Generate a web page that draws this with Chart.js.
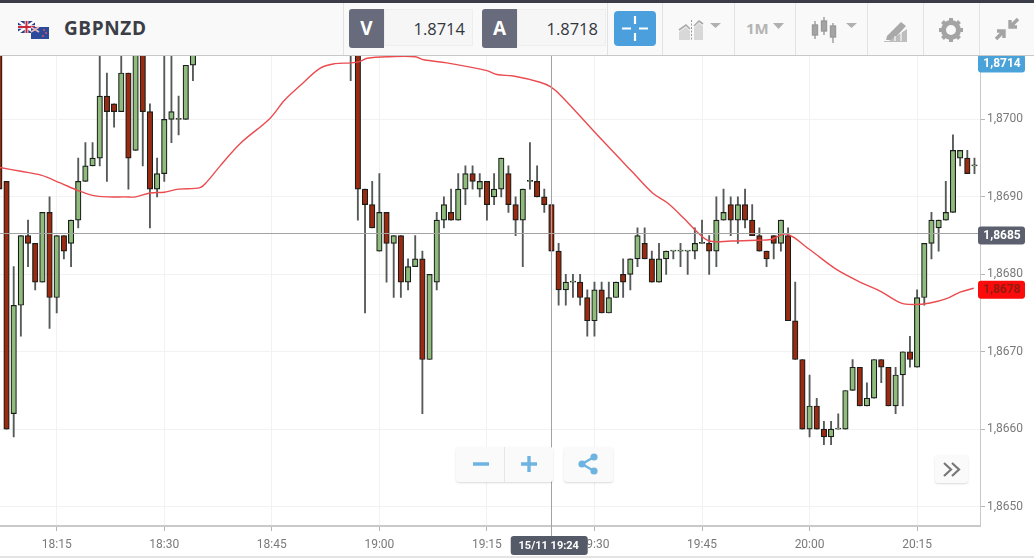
<!DOCTYPE html>
<html>
<head>
<meta charset="utf-8">
<title>GBPNZD</title>
<script src="https://cdn.jsdelivr.net/npm/chart.js@4/dist/chart.umd.min.js"></script>
<style>
  html, body { margin: 0; padding: 0; background: #fff; overflow: hidden; }
  #wrap { position: relative; width: 1034px; height: 558px; font-family: "Open Sans", sans-serif; }
  #chart { position: absolute; left: 0; top: 0; }
  #topline { position: absolute; left: 0; top: 0; width: 1034px; height: 3px; background: #3a3d48; }
  #header { position: absolute; left: 0; top: 3px; width: 1034px; height: 52px; background: #f9f9f9; border-bottom: 1px solid #c8c8c8; box-sizing: content-box; }
  .abs { position: absolute; }
  .div { position: absolute; top: 3px; width: 1px; height: 52px; background: #e2e2e2; }
  .sym { left: 64px; top: 15px; font-size: 19px; font-weight: 700; letter-spacing: 0.6px; color: #3b3e47; }
  .side { top: 9px; width: 35px; height: 39px; background: #676b7c; color: #fff; font-weight: 700; font-size: 19px; text-align: center; line-height: 39px; border-radius: 3px 0 0 3px; }
  .quote { top: 9px; height: 37px; background: #f6f6f6; border: 1px solid #eeeeee; color: #33363e; font-size: 16.5px; line-height: 38px; text-align: right; padding-right: 7px; box-sizing: border-box; }
  #bottom { position: absolute; left: 0; top: 556px; width: 1034px; height: 2px; background: #e4e4e4; }
  .btn { position: absolute; top: 447px; height: 35px; background: #fafafa; border-radius: 3px; box-shadow: 0 1px 2px rgba(0,0,0,.15); }
</style>
</head>
<body>
<div id="wrap">
  <canvas id="chart" width="1034" height="558"></canvas>
  <div id="topline"></div>
  <div id="header"></div>
  <div class="div" style="left:343px"></div>
  <div class="div" style="left:607px"></div>
  <div class="div" style="left:662px"></div>
  <div class="div" style="left:734px"></div>
  <div class="div" style="left:795px"></div>
  <div class="div" style="left:867px"></div>
  <div class="div" style="left:923px"></div>
  <div class="div" style="left:979px"></div>

  <svg class="abs" style="left:18px;top:21px" width="32" height="18" viewBox="0 0 32 18">
    <rect x="0" y="0" width="17" height="12" fill="#2a3f86"/>
    <path d="M0 0L17 12M17 0L0 12" stroke="#fff" stroke-width="2.4"/>
    <path d="M8.5 0V12M0 6H17" stroke="#fff" stroke-width="3.6"/>
    <path d="M8.5 0V12M0 6H17" stroke="#c8283a" stroke-width="2"/>
    <rect x="13" y="6" width="18" height="12" fill="#2b4a9a"/>
    <path d="M13 6L21 11M21 6L13 11" stroke="#e9b7bd" stroke-width="1.5"/>
    <circle cx="26" cy="9" r="1" fill="#e2505f"/><circle cx="28" cy="12" r="1" fill="#e2505f"/><circle cx="25" cy="15" r="1" fill="#e2505f"/>
  </svg>
  <div class="abs sym">GBPNZD</div>

  <div class="abs side" style="left:349px">V</div>
  <div class="abs quote" style="left:384px;width:89px">1.8714</div>
  <div class="abs side" style="left:482px">A</div>
  <div class="abs quote" style="left:517px;width:89px">1.8718</div>

  <svg class="abs" style="left:614px;top:11px" width="42" height="35" viewBox="0 0 42 35">
    <rect width="42" height="35" rx="4" fill="#4a9fdc"/>
    <path d="M8 17.5H17M25 17.5H34M21 5V13M21 22V30" stroke="#fff" stroke-width="2.2"/>
  </svg>

  <svg class="abs" style="left:677px;top:18px" width="50" height="24" viewBox="0 0 50 24">
    <path d="M2 22V14L9 9L13 13V22Z" fill="#d8d8d8"/>
    <path d="M2 12L9 7L13 11" fill="none" stroke="#a8a8a8" stroke-width="1.6"/>
    <path d="M17 22V10L22 5L26 8V22Z" fill="#d8d8d8"/>
    <path d="M17 8L22 3L26 6" fill="none" stroke="#a8a8a8" stroke-width="1.6"/>
    <path d="M14.5 2V23" stroke="#999" stroke-width="1" stroke-dasharray="2 1.5"/>
    <path d="M33 5H44L38.5 10Z" fill="#b0b0b0"/>
  </svg>
  <div class="abs" style="left:746px;top:18px;font-size:15px;font-weight:700;color:#b4b4b4">1M</div>
  <svg class="abs" style="left:773px;top:23px" width="12" height="7"><path d="M0 0H11L5.5 6Z" fill="#b0b0b0"/></svg>

  <svg class="abs" style="left:811px;top:15px" width="48" height="30" viewBox="0 0 48 30">
    <g stroke="#9a9a9a" stroke-width="1.4" fill="#a4a4a4">
      <path d="M4 6V24" fill="none"/><rect x="1.5" y="10" width="5" height="10"/>
      <path d="M13 2V20" fill="none"/><rect x="10.5" y="6" width="5" height="10"/>
      <path d="M22 8V28" fill="none"/><rect x="19.5" y="11" width="5" height="11"/>
    </g>
    <path d="M35 8H46L40.5 13Z" fill="#b0b0b0"/>
  </svg>

  <svg class="abs" style="left:883px;top:19px" width="26" height="25" viewBox="0 0 26 25">
    <path d="M4 17L18 3L23 7L10 21H3Z" fill="#a9a9a9"/>
    <path d="M1 22H6L24 10V23H1Z" fill="#bdbdbd"/>
    <path d="M12 22V17M18 22V13" stroke="#f9f9f9" stroke-width="1.2"/>
  </svg>

  <svg class="abs" style="left:938px;top:17px" width="26" height="26" viewBox="0 0 26 26">
    <circle cx="13" cy="13" r="7.5" fill="none" stroke="#a4a4a4" stroke-width="5"/>
    <g stroke="#a4a4a4" stroke-width="4">
      <path d="M13 1V5M13 21V25M1 13H5M21 13H25M4.5 4.5L7.3 7.3M18.7 18.7L21.5 21.5M4.5 21.5L7.3 18.7M18.7 7.3L21.5 4.5"/>
    </g>
  </svg>

  <svg class="abs" style="left:994px;top:16px" width="26" height="26" viewBox="0 0 26 26">
    <path d="M24 3L16 11M16 4V11H23M2 23L10 15M3 15H10V22" fill="none" stroke="#a4a4a4" stroke-width="3.4"/>
  </svg>

  <div class="btn" style="left:456px;width:97px"></div>
  <div class="abs" style="left:504px;top:447px;width:1px;height:35px;background:#e6e6e6"></div>
  <svg class="abs" style="left:472px;top:456px" width="66" height="16" viewBox="0 0 66 16">
    <path d="M1 8H17M49 8H65M57 0V16" stroke="#6fb4e0" stroke-width="3.4"/>
  </svg>
  <div class="btn" style="left:564px;width:49px"></div>
  <svg class="abs" style="left:577px;top:453px" width="22" height="22" viewBox="0 0 22 22">
    <path d="M17 4L5 11L17 18" fill="none" stroke="#6fb4e0" stroke-width="2.4"/>
    <circle cx="17" cy="4" r="3.6" fill="#6fb4e0"/><circle cx="5" cy="11" r="3.6" fill="#6fb4e0"/><circle cx="17" cy="18" r="3.6" fill="#6fb4e0"/>
  </svg>
  <div class="btn" style="left:935px;top:455px;width:33px;height:28px"></div>
  <svg class="abs" style="left:943px;top:462px" width="18" height="15" viewBox="0 0 18 15">
    <path d="M1 1L8 7.5L1 14M9 1L16 7.5L9 14" fill="none" stroke="#777" stroke-width="2.2"/>
  </svg>
  <div id="bottom"></div>
</div>

<script>
// one candle per minute, minute counted from 18:00
const candleMinutes = [
  7,8,9,10,11,12,13,14,15,16,17,18,19,20,21,22,23,24,25,26,27,28,29,30,31,32,33,34,
  56,57,58,59,60,61,62,63,64,65,66,67,68,69,70,71,72,73,74,75,76,77,78,79,80,81,82,83,84,85,
  86,87,88,89,90,91,92,93,94,95,96,97,98,99,100,101,102,103,104,105,106,107,108,109,110,111,112,113,114,
  115,116,117,118,119,120,121,122,123,124,125,126,127,128,129,130,131,132,133,134,135,136,137,138,139,140,141,142,143
];
const opens = [
  1.8715,1.8692,1.8662,1.8676,1.8685,1.8684,1.8679,1.8688,1.8677,1.8685,1.8684,1.8687,1.8692,1.8694,1.8695,1.8703,1.8702,1.8701,1.8706,1.8696,1.8712,1.8701,1.8691,1.8693,1.8700,1.8700,1.8700,1.8707,
  1.8720,1.8720,1.8691,1.8689,1.8683,1.8688,1.8684,1.8685,1.8679,1.8681,1.8682,1.8669,1.8679,1.8687,1.8688,1.8687,1.8691,1.8693,1.8691,1.8692,1.8690,1.8691,1.8693,1.8689,1.8687,1.8692,1.8692,1.8690,1.8689,1.8683,
  1.8678,1.8679,1.8679,1.8677,1.8674,1.8678,1.8675,1.8677,1.8680,1.8680,1.8682,1.8684,1.8682,1.8679,1.8682,1.8683,1.8683,1.8683,1.8683,1.8684,1.8684,1.8683,1.8687,1.8689,1.8687,1.8689,1.8687,1.8685,1.8683,
  1.8685,1.8684,1.8685,1.8674,1.8669,1.8660,1.8663,1.8660,1.8659,1.8660,1.8660,1.8665,1.8668,1.8663,1.8664,1.8669,1.8668,1.8663,1.8667,1.8670,1.8668,1.8677,1.8684,1.8686,1.8687,1.8688,1.8695,1.8695,1.8694
];
const closes = [
  1.8691,1.8660,1.8676,1.8685,1.8684,1.8679,1.8688,1.8677,1.8685,1.8683,1.8687,1.8692,1.8694,1.8695,1.8703,1.8701,1.8701,1.8706,1.8695,1.8712,1.8701,1.8691,1.8693,1.8700,1.8701,1.8700,1.8707,1.8712,
  1.8718,1.8691,1.8689,1.8686,1.8688,1.8684,1.8685,1.8679,1.8681,1.8682,1.8669,1.8680,1.8687,1.8689,1.8687,1.8691,1.8693,1.8692,1.8692,1.8689,1.8691,1.8695,1.8689,1.8687,1.8691,1.8692,1.8690,1.8689,1.8683,1.8678,
  1.8679,1.8679,1.8677,1.8674,1.8678,1.8675,1.8677,1.8679,1.8679,1.8682,1.8685,1.8682,1.8679,1.8682,1.8683,1.8683,1.8683,1.8683,1.8684,1.8684,1.8683,1.8687,1.8688,1.8687,1.8689,1.8687,1.8685,1.8683,1.8682,
  1.8684,1.8687,1.8674,1.8669,1.8660,1.8663,1.8660,1.8659,1.8660,1.8660,1.8665,1.8668,1.8663,1.8664,1.8669,1.8668,1.8663,1.8667,1.8670,1.8669,1.8677,1.8684,1.8687,1.8687,1.8688,1.8696,1.8696,1.8693,1.8694
];
const highs = [
  1.8718,1.8692,1.8681,1.8685,1.8687,1.8684,1.8688,1.8690,1.8685,1.8685,1.8687,1.8695,1.8697,1.8697,1.8712,1.8706,1.8702,1.8712,1.8706,1.8712,1.8712,1.8702,1.8695,1.8712,1.8712,1.8703,1.8707,1.8712,
  1.8722,1.8720,1.8691,1.8692,1.8693,1.8688,1.8685,1.8685,1.8682,1.8685,1.8683,1.8680,1.8688,1.8690,1.8691,1.8693,1.8694,1.8694,1.8693,1.8692,1.8693,1.8695,1.8694,1.8690,1.8691,1.8697,1.8694,1.8691,1.8689,1.8684,
  1.8680,1.8680,1.8680,1.8678,1.8679,1.8679,1.8679,1.8679,1.8682,1.8682,1.8686,1.8686,1.8683,1.8684,1.8683,1.8683,1.8684,1.8683,1.8686,1.8687,1.8685,1.8690,1.8691,1.8690,1.8690,1.8691,1.8689,1.8686,1.8683,
  1.8685,1.8687,1.8686,1.8679,1.8669,1.8667,1.8664,1.8661,1.8661,1.8662,1.8665,1.8669,1.8668,1.8666,1.8669,1.8669,1.8668,1.8668,1.8670,1.8672,1.8678,1.8684,1.8688,1.8687,1.8692,1.8698,1.8696,1.8696,1.8695
];
const lows = [
  1.8691,1.8660,1.8659,1.8672,1.8681,1.8678,1.8679,1.8673,1.8675,1.8682,1.8681,1.8686,1.8692,1.8694,1.8694,1.8692,1.8699,1.8701,1.8691,1.8696,1.8694,1.8686,1.8690,1.8692,1.8697,1.8698,1.8700,1.8705,
  1.8705,1.8687,1.8675,1.8686,1.8683,1.8679,1.8677,1.8677,1.8678,1.8681,1.8662,1.8669,1.8678,1.8686,1.8687,1.8687,1.8689,1.8691,1.8690,1.8687,1.8689,1.8690,1.8688,1.8685,1.8681,1.8691,1.8690,1.8688,1.8683,1.8676,
  1.8676,1.8677,1.8676,1.8672,1.8672,1.8675,1.8675,1.8677,1.8677,1.8678,1.8681,1.8682,1.8679,1.8679,1.8680,1.8682,1.8681,1.8680,1.8682,1.8684,1.8680,1.8681,1.8687,1.8685,1.8684,1.8686,1.8685,1.8683,1.8681,
  1.8682,1.8683,1.8674,1.8669,1.8660,1.8659,1.8660,1.8658,1.8658,1.8660,1.8660,1.8665,1.8663,1.8663,1.8664,1.8666,1.8663,1.8662,1.8663,1.8668,1.8668,1.8676,1.8682,1.8683,1.8687,1.8688,1.8694,1.8693,1.8693
];

// moving average
const maMinutes = [7,10,12.8,15.5,18,20,22,24.5,26,28,30,32,35,36,37.8,40.6,44.7,46.8,49,51.7,53.8,56,57.3,58.3,61.5,65,66.2,69.4,75,76.4,78.7,82.4,83.9,85.3,91.1,95.3,98.1,100.2,102.5,104.4,106,109,112.7,114.6,116.8,120,123.8,127.5,129.9,132.7,134.5,136.8,139.2,141,142.9];
const maValues = [1.86938,1.86933,1.86928,1.86918,1.86908,1.86902,1.86900,1.86900,1.86900,1.86905,1.86906,1.86910,1.86912,1.86920,1.86940,1.86969,1.87001,1.87025,1.87044,1.87066,1.87072,1.87073,1.87075,1.87079,1.87081,1.87081,1.87077,1.87073,1.87063,1.87058,1.87056,1.87048,1.87042,1.87031,1.86973,1.86932,1.86905,1.86892,1.86872,1.86854,1.86843,1.86843,1.86844,1.86845,1.86852,1.86832,1.86806,1.86788,1.86778,1.86763,1.86761,1.86763,1.86769,1.86777,1.86782];

const xTickMinutes = [15,30,45,60,75,90,105,120,135];
const xTickLabels = ['18:15','18:30','18:45','19:00','19:15','19:30','19:45','20:00','20:15'];
const yTickValues = [1.865,1.866,1.867,1.868,1.869,1.87];

const crosshairMinute = 83.9;
const crosshairPrice = 1.86853;
const crosshairLabel = '15/11 19:24';
const tagPrices = [1.8714, 1.8685, 1.8678];
const tagFills = ['#4aa3d8', '#5b5f6e', '#fb0b0b'];
const tagTexts = ['#ffffff', '#ffffff', '#8e1c12'];

const UP = '#8fbb7c', DOWN = '#9a2a10', EDGE = '#1a1d1a';

const wickData = candleMinutes.map((m, i) => ({ x: m, y: [lows[i], highs[i]] }));
const bodyData = candleMinutes.map((m, i) => ({ x: m, y: [opens[i], closes[i]] }));
const maData = maMinutes.map((m, i) => ({ x: m, y: maValues[i] }));

const fmt = v => v.toFixed(4).replace('.', ',');

// crosshair and the price / time tags on the axes
const overlay = {
  id: 'overlay',
  afterDraw(chart) {
    const { ctx, chartArea: a, scales: { x, y } } = chart;
    const cx = x.getPixelForValue(crosshairMinute);
    const cy = y.getPixelForValue(crosshairPrice);
    ctx.save();
    ctx.strokeStyle = '#a2a2a2';
    ctx.lineWidth = 1;
    ctx.beginPath();
    ctx.moveTo(a.left, Math.round(cy) + 0.5);
    ctx.lineTo(a.right, Math.round(cy) + 0.5);
    ctx.moveTo(Math.round(cx) + 0.5, a.top);
    ctx.lineTo(Math.round(cx) + 0.5, 536);
    ctx.stroke();

    ctx.textBaseline = 'middle';
    ctx.textAlign = 'center';
    ctx.font = 'bold 12px Roboto';
    tagPrices.forEach((p, i) => {
      const h = 18;
      const py = Math.max(y.getPixelForValue(p), a.top + h / 2 + 1);
      ctx.fillStyle = tagFills[i];
      ctx.beginPath();
      ctx.roundRect(978, py - h / 2, 47, h, 3);
      ctx.fill();
      ctx.fillStyle = tagTexts[i];
      ctx.fillText(fmt(p), 1002, py + 0.5);
    });

    ctx.fillStyle = '#555a68';
    ctx.beginPath();
    ctx.roundRect(cx - 40, 536, 77, 19, 3);
    ctx.fill();
    ctx.fillStyle = '#ffffff';
    ctx.font = 'bold 11px Roboto';
    ctx.fillText(crosshairLabel, cx - 2, 546);
    ctx.restore();
  }
};

new Chart(document.getElementById('chart'), {
  type: 'bar',
  data: {
    datasets: [
      {
        type: 'line',
        data: maData,
        borderColor: '#ea4c50',
        borderWidth: 1.4,
        pointRadius: 0,
        tension: 0.35,
        clip: 0,
        order: 1
      },
      {
        data: bodyData,
        barThickness: 5.5,
        minBarLength: 1,
        grouped: false,
        borderSkipped: false,
        borderWidth: 1.2,
        borderColor: EDGE,
        backgroundColor: c => (c.raw.y[1] >= c.raw.y[0] ? UP : DOWN),
        clip: 0,
        order: 2
      },
      {
        data: wickData,
        barThickness: 1.2,
        grouped: false,
        borderWidth: 0,
        backgroundColor: '#555958',
        clip: 0,
        order: 3
      }
    ]
  },
  options: {
    responsive: false,
    animation: false,
    layout: { padding: { top: 53.6, left: 0, right: 0, bottom: 0 } },
    plugins: { legend: { display: false }, tooltip: { enabled: false } },
    scales: {
      x: {
        type: 'linear',
        offset: false,
        min: 7.09,
        max: 143.77,
        afterFit: s => { s.height = 32; },
        afterBuildTicks: s => { s.ticks = xTickMinutes.map(v => ({ value: v })); },
        grid: { offset: false, color: '#f2f2f2', tickColor: '#b5b5b5', tickLength: 5, drawTicks: true },
        border: { color: '#c9c9c9', width: 2 },
        ticks: {
          autoSkip: false,
          maxRotation: 0,
          padding: 7,
          color: '#7a7a7a',
          font: { family: 'Roboto', size: 12 },
          callback: v => xTickLabels[xTickMinutes.indexOf(v)]
        }
      },
      y: {
        position: 'right',
        min: 1.86475,
        max: 1.87085,
        afterFit: s => { s.width = 54; },
        afterBuildTicks: s => { s.ticks = yTickValues.map(v => ({ value: v })); },
        grid: { color: '#f2f2f2', tickColor: '#b5b5b5', tickLength: 5 },
        border: { color: '#c9c9c9', width: 1 },
        ticks: {
          padding: 2,
          color: '#7a7a7a',
          font: { family: 'Roboto', size: 12 },
          callback: v => fmt(v)
        }
      }
    }
  },
  plugins: [overlay]
});
</script>
</body>
</html>
